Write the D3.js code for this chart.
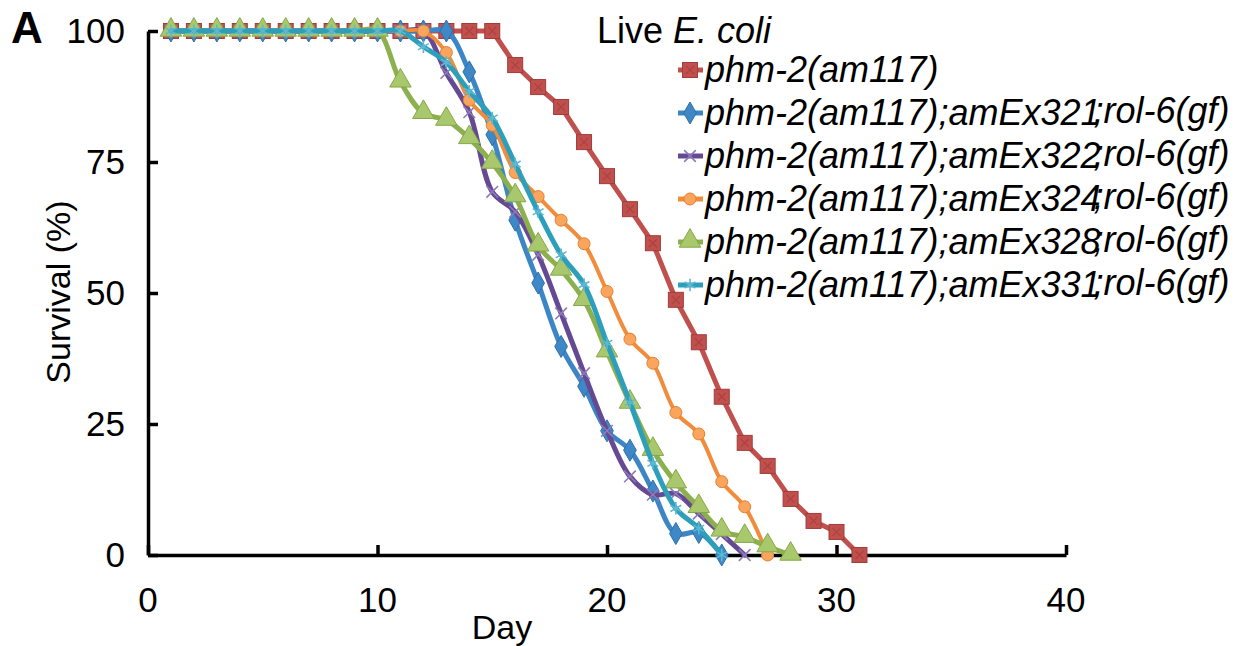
<!DOCTYPE html>
<html>
<head>
<meta charset="utf-8">
<style>
  body { margin: 0; background: #fff; }
  svg text { font-family: "Liberation Sans", Arial, sans-serif; fill: #000; }
</style>
</head>
<body>
<svg id="chart" width="1236" height="646"></svg>
<script src="https://d3js.org/d3.v7.min.js"></script>
<script>

// survival (%) per day, first value is day 1
var am117   = [100,100,100,100,100,100,100,100,100,100,100,100,100,100,100,93.5,89.3,85.5,78.8,72.3,66,59.5,48.7,40.6,30.2,21.4,17,10.7,6.5,4.4,0];
var amEx321 = [100,100,100,100,100,100,100,100,100,100,100,100,100,92.2,80.2,63.9,51.9,39.8,32.2,23.7,20,12.2,4.1,4.3,0];
var amEx322 = [100,100,100,100,100,100,100,100,100,100,100,100,92,84.5,69.3,65.5,57.3,46.1,34.7,23.7,15,11.5,11.7,7.9,4,0];
var amEx324 = [100,100,100,100,100,100,100,100,100,100,100,100,95.9,86.8,82,73,68.4,63.9,59.4,50.3,41.2,36.6,27.2,23.1,14,9.2,0];
var amEx328 = [100,100,100,100,100,100,100,100,100,100,90.3,84.3,83,79.5,74.8,68.4,59,54.4,48.6,38.8,29,20,13.8,9.1,4.6,3.4,1.6,0];
var amEx331 = [100,100,100,100,100,100,100,100,100,100,100,97,94,88.5,83.4,74.6,65.5,57.3,51.6,40.4,29.1,17.5,8.9,5.1,0];

var xTicks = [0, 10, 20, 30, 40];
var yTicks = [0, 25, 50, 75, 100];

var seriesNames = ["phm-2(am117)", "amEx321", "amEx322", "amEx324", "amEx328", "amEx331"];

var series = [
  {name: seriesNames[0], values: am117,   line: "#C0504D", fill: "#C0504D", edge: "#A33B39", shape: "square"},
  {name: seriesNames[1], values: amEx321, line: "#3C86C6", fill: "#3F88C8", edge: "#2F6FA8", shape: "diamond"},
  {name: seriesNames[2], values: amEx322, line: "#654A93", fill: "none",    edge: "#8E7AB8", shape: "times"},
  {name: seriesNames[3], values: amEx324, line: "#F08C3C", fill: "#F9A55E", edge: "#E5802E", shape: "circle"},
  {name: seriesNames[4], values: amEx328, line: "#8DB04F", fill: "#A9C86D", edge: "#86A846", shape: "triangle"},
  {name: seriesNames[5], values: amEx331, line: "#2E9FBA", fill: "none",    edge: "#5DB8D2", shape: "asterisk"}
];

var svg = d3.select("#chart");

var x = d3.scaleLinear().domain([0, 40]).range([148, 1066]);
var y = d3.scaleLinear().domain([0, 100]).range([555, 31]);

// axes
var yAxis = svg.append("g")
    .attr("transform", "translate(" + x(0) + ",0)")
    .call(d3.axisLeft(y).tickValues(yTicks).tickSizeInner(-10).tickSizeOuter(0).tickFormat(""));
var xAxis = svg.append("g")
    .attr("transform", "translate(0," + y(0) + ")")
    .call(d3.axisBottom(x).tickValues(xTicks).tickSizeInner(-10).tickSizeOuter(0).tickFormat(""));
svg.selectAll(".domain, .tick line").attr("stroke", "#000").attr("stroke-width", 3.5);

svg.append("g").selectAll("text").data(yTicks).join("text")
    .attr("x", 125).attr("y", function(d) { return y(d) + 12; })
    .attr("text-anchor", "end").attr("font-size", 35)
    .text(function(d) { return d; });

svg.append("g").selectAll("text").data(xTicks).join("text")
    .attr("x", function(d) { return x(d); }).attr("y", 612)
    .attr("text-anchor", "middle").attr("font-size", 35)
    .text(function(d) { return d; });

svg.append("text").attr("x", 502).attr("y", 639)
    .attr("text-anchor", "middle").attr("font-size", 34).text("Day");

svg.append("text")
    .attr("transform", "translate(70,292) rotate(-90)")
    .attr("text-anchor", "middle").attr("font-size", 34).text("Survival (%)");

svg.append("text").attr("x", 11).attr("y", 43)
    .attr("font-size", 44).attr("font-weight", "bold").text("A");

// markers
function marker(g, s) {
  if (s.shape === "square") {
    g.append("rect").attr("x", -7.5).attr("y", -7.5).attr("width", 15).attr("height", 15)
      .attr("fill", s.fill).attr("stroke", s.edge).attr("stroke-width", 1);
    g.append("path").attr("d", "M-4,-4L4,4M4,-4L-4,4")
      .attr("stroke", "#A53C3A").attr("stroke-width", 1.2).attr("opacity", 0.7);
  } else if (s.shape === "circle") {
    g.append("circle").attr("r", 6).attr("fill", s.fill).attr("stroke", s.edge).attr("stroke-width", 1);
  } else {
    var type = {diamond: d3.symbolDiamond, triangle: d3.symbolTriangle,
                times: d3.symbolTimes, asterisk: d3.symbolAsterisk}[s.shape];
    var size = {diamond: 140, triangle: 200, times: 90, asterisk: 110}[s.shape];
    var p = g.append("path").attr("d", d3.symbol().type(type).size(size)());
    if (s.fill === "none") {
      p.attr("fill", "none").attr("stroke", s.edge).attr("stroke-width", 1.6);
    } else {
      p.attr("fill", s.fill).attr("stroke", s.edge).attr("stroke-width", 1);
    }
    if (s.shape === "triangle") p.attr("transform", "translate(0,-1)");
  }
}

var smooth = d3.line()
    .x(function(d, i) { return x(i + 1); })
    .y(function(d) { return y(d); })
    .curve(d3.curveCatmullRom.alpha(0.5));
var straight = d3.line()
    .x(function(d, i) { return x(i + 1); })
    .y(function(d) { return y(d); });

series.forEach(function(s, k) {
  var g = svg.append("g");
  g.append("path")
    .attr("d", (k === 0 ? straight : smooth)(s.values))
    .attr("fill", "none")
    .attr("stroke", s.line)
    .attr("stroke-width", k === 3 ? 4 : 5)
    .attr("stroke-linejoin", "round")
    .attr("stroke-linecap", "round");
  g.selectAll("g.pt").data(s.values).join("g")
    .attr("class", "pt")
    .attr("transform", function(d, i) { return "translate(" + x(i + 1) + "," + y(d) + ")"; })
    .each(function() { marker(d3.select(this), s); });
});

// legend
var legend = svg.append("g");
var title = legend.append("text").attr("x", 597).attr("y", 43).attr("font-size", 36);
title.append("tspan").text("Live ");
title.append("tspan").attr("font-style", "italic").text("E. coli");

series.forEach(function(s, k) {
  var cy = 70 + k * 43;
  var row = legend.append("g");
  row.append("line").attr("x1", 678).attr("x2", 703).attr("y1", cy).attr("y2", cy)
    .attr("stroke", s.line).attr("stroke-width", 5);
  marker(row.append("g").attr("transform", "translate(690," + cy + ")"), s);
  var t = row.append("text").attr("x", 705).attr("y", cy + 12)
    .attr("font-size", 36).attr("font-style", "italic");
  if (k === 0) {
    t.text(s.name);
  } else {
    t.append("tspan").text(seriesNames[0] + ";" + s.name);
    t.append("tspan").attr("dx", -7).attr("dy", -2).text(";rol-6(gf)");
  }
});

</script>
</body>
</html>
